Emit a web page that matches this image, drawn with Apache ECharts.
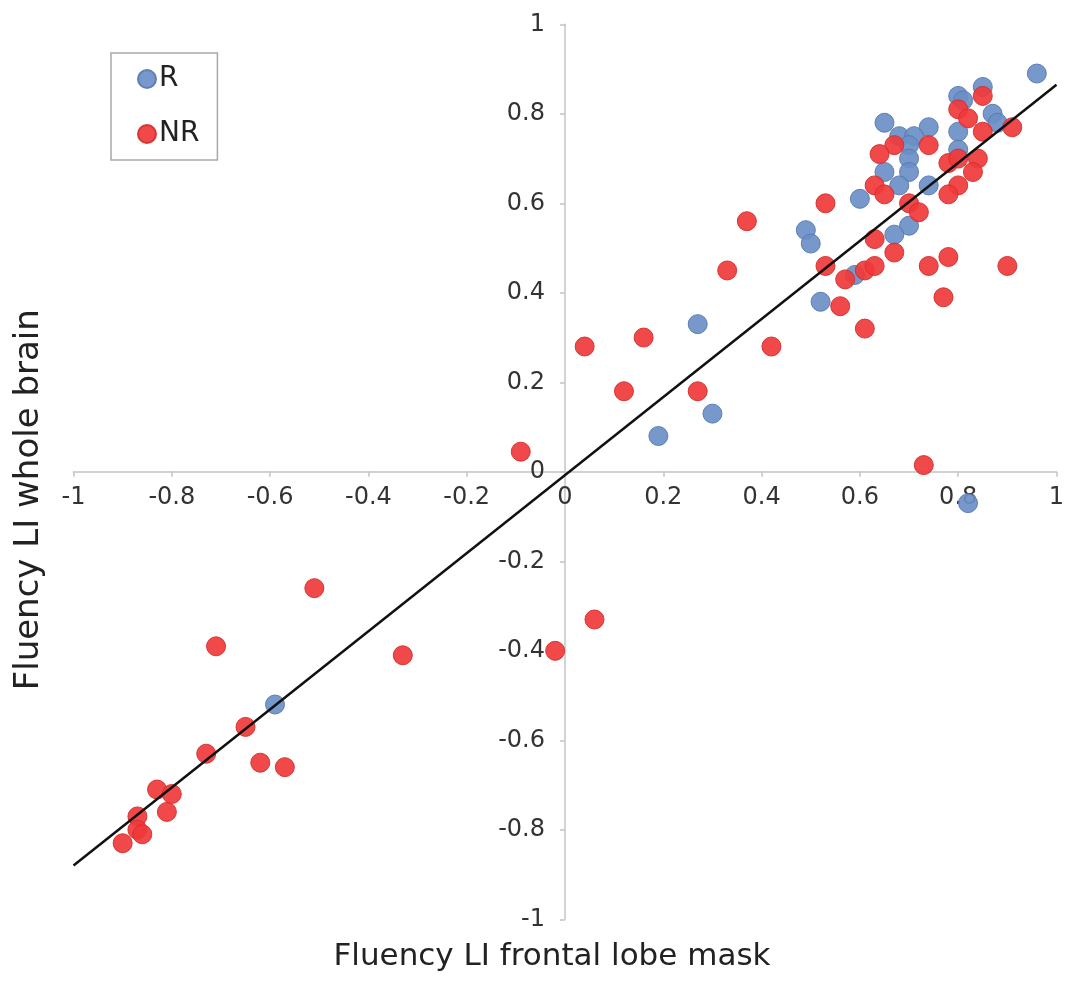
<!DOCTYPE html>
<html>
<head>
<meta charset="utf-8">
<script src="https://cdn.jsdelivr.net/npm/echarts@6/dist/echarts.min.js"></script>
<style>
html,body{margin:0;padding:0;background:#fff;}
#chart{width:1065px;height:985px;}
</style>
</head>
<body>
<div id="chart"></div>
<script>
// Series R (blue): [frontal lobe mask LI, whole brain LI]
var seriesR = [
  [0.96,0.89],[0.85,0.86],[0.80,0.84],[0.81,0.83],[0.87,0.80],[0.88,0.78],
  [0.65,0.78],[0.74,0.77],[0.80,0.76],[0.68,0.75],[0.71,0.75],[0.70,0.73],
  [0.80,0.72],[0.70,0.70],[0.70,0.67],[0.65,0.67],[0.68,0.64],[0.74,0.64],
  [0.60,0.61],[0.49,0.54],[0.50,0.51],[0.70,0.55],[0.67,0.53],[0.59,0.44],
  [0.52,0.38],[0.27,0.33],[0.30,0.13],[0.19,0.08],[0.82,-0.07],[-0.59,-0.52]
];
// Series NR (red)
var seriesNR = [
  [0.85,0.84],[0.80,0.81],[0.82,0.79],[0.85,0.76],[0.91,0.77],[0.74,0.73],
  [0.67,0.73],[0.64,0.71],[0.78,0.69],[0.80,0.70],[0.84,0.70],[0.83,0.67],
  [0.63,0.64],[0.80,0.64],[0.65,0.62],[0.70,0.60],[0.72,0.58],[0.78,0.62],
  [0.53,0.60],[0.37,0.56],[0.63,0.52],[0.67,0.49],[0.53,0.46],[0.57,0.43],
  [0.61,0.45],[0.63,0.46],[0.74,0.46],[0.78,0.48],[0.90,0.46],[0.77,0.39],
  [0.56,0.37],[0.61,0.32],[0.33,0.45],[0.04,0.28],[0.16,0.30],[0.42,0.28],
  [0.12,0.18],[0.27,0.18],[-0.09,0.045],[0.73,0.015],[0.06,-0.33],[-0.02,-0.40],
  [-0.51,-0.26],[-0.71,-0.39],[-0.33,-0.41],[-0.65,-0.57],[-0.73,-0.63],[-0.62,-0.65],
  [-0.57,-0.66],[-0.83,-0.71],[-0.80,-0.72],[-0.81,-0.76],[-0.87,-0.77],[-0.87,-0.80],
  [-0.86,-0.81],[-0.90,-0.83]
];
// Fit line endpoints
var fitLine = [[-1,-0.88],[1,0.865]];
var seriesNames = ['R','NR'];
var xTitle = 'Fluency LI frontal lobe mask';
var yTitle = 'Fluency LI whole brain';
var axisMin = -1, axisMax = 1, axisStep = 0.2;

var FONT = 'DejaVu Sans';
var GRID = {left:73.5, right:8.5, top:24.3, bottom:65.7};
var W = 1065, H = 985;
var plotW = W - GRID.left - GRID.right, plotH = H - GRID.top - GRID.bottom;
// move the axes to cross at zero (axes span -1..1, so zero is the centre)
var xAxisOffset = -plotH * (0 - axisMin) / (axisMax - axisMin);
var yAxisOffset = -plotW * (0 - axisMin) / (axisMax - axisMin);

var chart = echarts.init(document.getElementById('chart'));
var axisCommon = {
  type:'value', min:axisMin, max:axisMax, interval:axisStep,
  splitLine:{show:false},
  axisLine:{show:true, onZero:false, lineStyle:{color:'#c4c4c4', width:1.5}},
  axisTick:{show:true, length:5, lineStyle:{color:'#c4c4c4', width:1.5}},
  axisLabel:{color:'#333', fontFamily:FONT, fontSize:24}
};
chart.setOption({
  backgroundColor:'#fff',
  animation:false,
  grid:{left:GRID.left, right:GRID.right, top:GRID.top, bottom:GRID.bottom, containLabel:false, outerBoundsMode:'none'},
  legend:{
    data:seriesNames, orient:'vertical', left:111, top:53,
    icon:'circle', itemWidth:18, itemHeight:18, itemGap:27,
    padding:[12,18,12,26],
    borderColor:'#a8a8a8', borderWidth:1.5,
    textStyle:{fontFamily:FONT, fontSize:28, color:'#222', padding:[0,0,0,-2]}
  },
  xAxis: Object.assign({}, axisCommon, {
    position:'bottom', offset:xAxisOffset,
    name:xTitle, nameLocation:'middle', nameGap:470,
    nameTextStyle:{fontFamily:FONT, fontSize:31, color:'#222', padding:[0,26,0,0]},
    axisLabel:Object.assign({}, axisCommon.axisLabel, {margin:14})
  }),
  yAxis: Object.assign({}, axisCommon, {
    position:'left', offset:yAxisOffset,
    name:yTitle, nameLocation:'middle', nameGap:519,
    nameTextStyle:{fontFamily:FONT, fontSize:34, color:'#222', padding:[0,56,0,0]},
    axisLabel:Object.assign({}, axisCommon.axisLabel, {margin:20})
  }),
  series:[
    {name:seriesNames[0], type:'scatter', data:seriesR, symbolSize:19, z:2,
     itemStyle:{color:'#6b8fc6', borderColor:'#5878b0', borderWidth:1, opacity:0.92}},
    {name:seriesNames[1], type:'scatter', data:seriesNR, symbolSize:19, z:3,
     itemStyle:{color:'#f03a3a', borderColor:'#d22e2e', borderWidth:1, opacity:0.92}},
    {name:'fit', type:'line', data:fitLine, showSymbol:false, symbol:'none', z:5,
     silent:true, lineStyle:{color:'#111', width:2.5}}
  ]
});
</script>
</body>
</html>
